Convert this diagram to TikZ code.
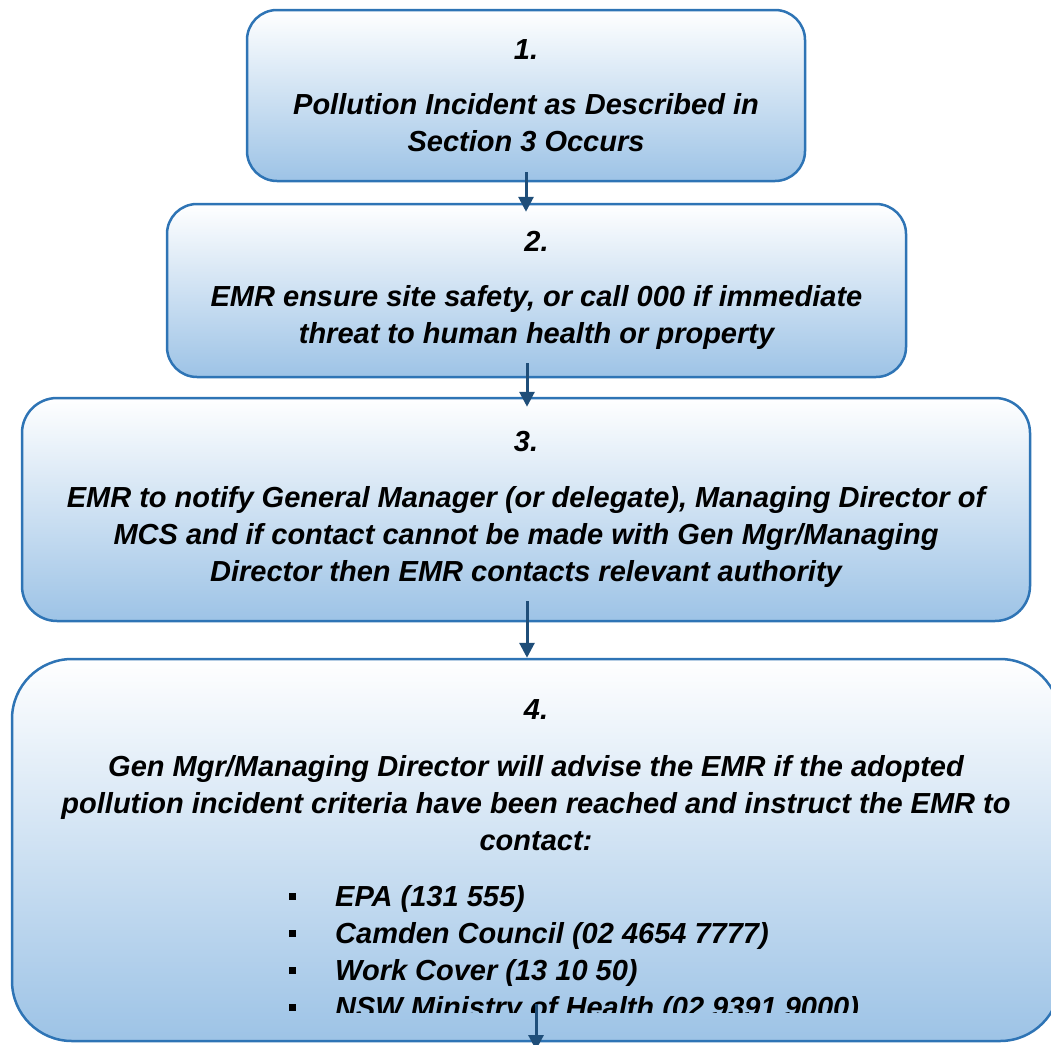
\documentclass[tikz,border=0pt]{standalone}
\usepackage{fontspec}
\setmainfont{Liberation Sans}
\usepackage{xcolor}
\usetikzlibrary{positioning}
\usetikzlibrary{arrows.meta}
\definecolor{stepline}{HTML}{2E74B5}
\definecolor{stepfill}{HTML}{9DC3E6}
\definecolor{flowline}{HTML}{1F4E79}
\newcommand\stepbul{\makebox[46pt][l]{\rule[6pt]{7pt}{7pt}}}

\begin{document}
\begin{tikzpicture}[x=1pt, y=-1pt,
    stepbox/.style={draw=stepline, line width=2.5pt, rounded corners=30pt,
      top color=white, bottom color=stepfill, align=center, inner sep=0pt,
      font=\fontsize{29}{37}\selectfont\bfseries\itshape},
    steptext/.style={inner sep=0pt, font=\fontsize{29}{37}\selectfont\bfseries\itshape},
    flow/.style={draw=flowline, line width=3pt, -{Triangle[length=15pt,width=15pt]}}]
  \useasboundingbox (0,0) rectangle (1051,1044);
  % steps
  \node[stepbox, minimum width=558pt, minimum height=171pt] (s1) at (526,95.5)
    {1.\\[18pt]Pollution Incident as Described in\\Section 3 Occurs};
  \node[stepbox, minimum width=739pt, minimum height=173pt] (s2) at (536.5,290.5)
    {2.\\[18pt]EMR ensure site safety, or call 000 if immediate\\threat to human health or property};
  \node[stepbox, rounded corners=35pt, minimum width=1008pt, minimum height=223pt] (s3) at (526,509.5)
    {3.\\[19pt]EMR to notify General Manager (or delegate), Managing Director of\\MCS and if contact cannot be made with Gen Mgr/Managing\\Director then EMR contacts relevant authority};
  \node[stepbox, rounded corners=60pt, minimum width=1048pt, minimum height=382pt] (s4) at (536,850) {};
  \node[steptext, align=center, anchor=north] (t4) at (536,699)
    {4.\\[20pt]Gen Mgr/Managing Director will advise the EMR if the adopted\\pollution incident criteria have been reached and instruct the EMR to\\contact:};
  \begin{scope}
    \clip (12,659) rectangle (1060,1012);
    \node[steptext, align=left, anchor=north west] (l4) at (289,885)
      {\stepbul EPA (131 555)\\\stepbul Camden Council (02 4654 7777)\\\stepbul Work Cover (13 10 50)\\\stepbul NSW Ministry of Health (02 9391 9000)};
  \end{scope}
  % arrows
  \coordinate (out) at (536,1050);
  \draw[flow] ([yshift=10pt]s1.south) -- ([yshift=-9pt]s1.south |- s2.north);
  \draw[flow] ([xshift=-9.5pt,yshift=15pt]s2.south) -- ([yshift=-10pt,xshift=1pt]s3.north);
  \draw[flow] ([xshift=1pt,yshift=21pt]s3.south) -- ([xshift=1pt]s3.south |- s4.north);
  \draw[flow] ([yshift=38pt]s4.south) -- (out);
\end{tikzpicture}
\end{document}
